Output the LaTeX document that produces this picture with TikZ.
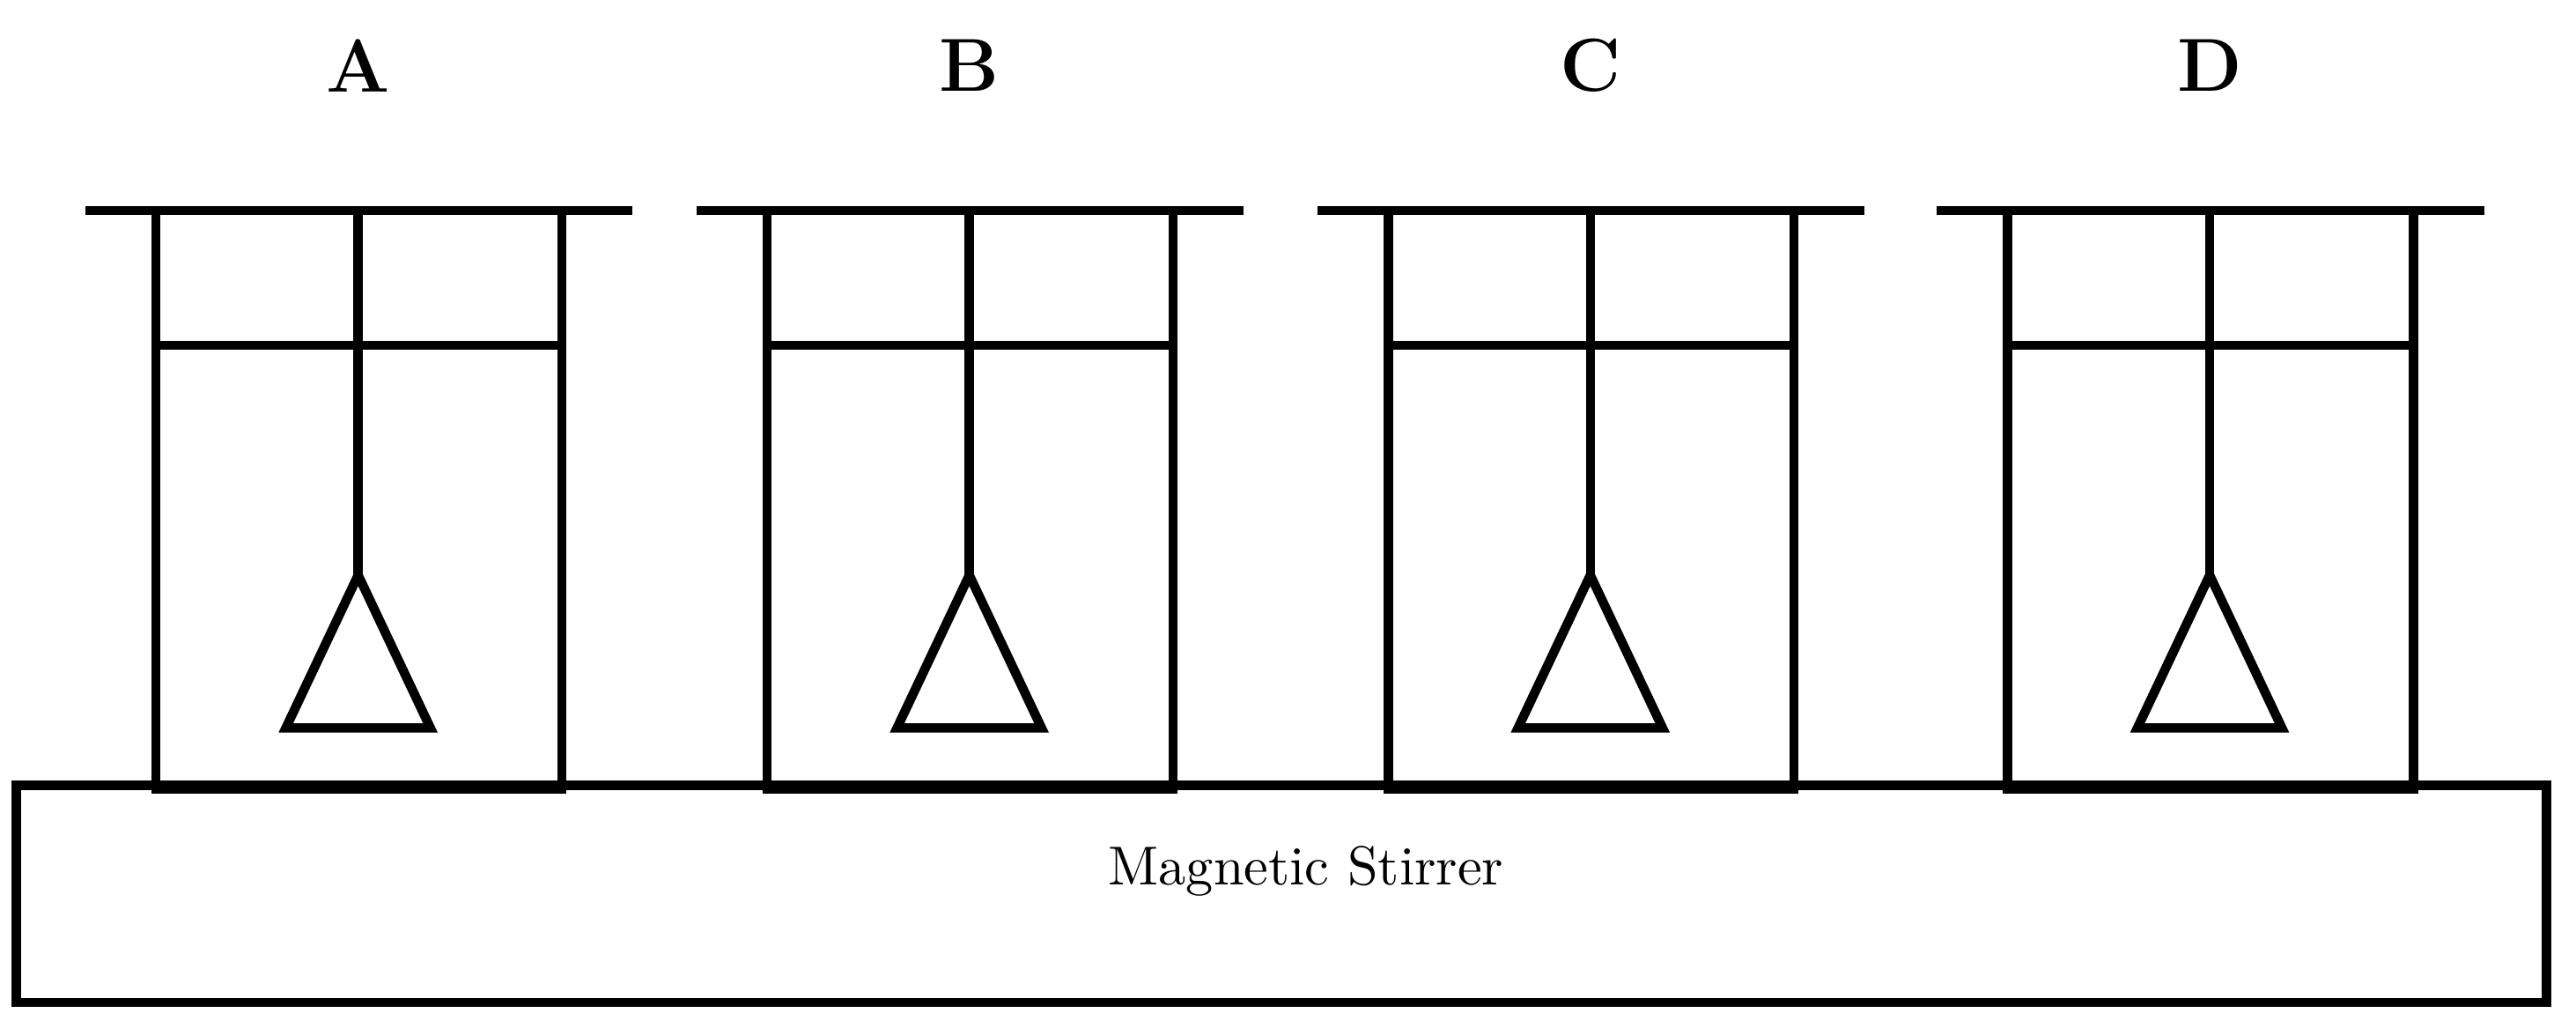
\documentclass[tikz,border=0pt]{standalone}
\usepackage{tikz}
\usetikzlibrary{positioning}
\tikzstyle{wall} = [line width=1.6pt, black]
\tikzstyle{letter} = [font=\fontsize{13}{15}\selectfont\bfseries]
\tikzstyle{stirrer} = [rectangle, draw=black, line width=1.6pt, minimum width=15.4cm, minimum height=1.32cm, font=\fontsize{9.5}{11}\selectfont]
\begin{document}
\begin{tikzpicture}[y=-1cm]
	\useasboundingbox (0,0) rectangle (15.68,6.255);
	\node (stir) [stirrer] at (7.8,5.44) {};
	\node (stirlab) at (7.95,5.3) [font=\fontsize{9.5}{11}\selectfont] {Magnetic Stirrer};
	% beakers
	\foreach \x/\lab in {2.18/A, 5.9/B, 9.68/C, 13.45/D}{
		\node (lab\lab) [letter] at (\x,0.4) {\lab};
		\draw [wall] (\x-1.66,1.28) -- (\x+1.67,1.28);
		\draw [wall] (\x-1.23,1.28) -- (\x-1.23,4.8) -- (\x+1.24,4.8) -- (\x+1.24,1.28);
		\draw [wall] (\x-1.23,2.1) -- (\x+1.24,2.1);
		\draw [wall] (\x,1.28) -- (\x,3.5);
		\draw [wall] (\x,3.5) -- (\x+0.44,4.43) -- (\x-0.44,4.43) -- cycle;
	}
\end{tikzpicture}
\end{document}
